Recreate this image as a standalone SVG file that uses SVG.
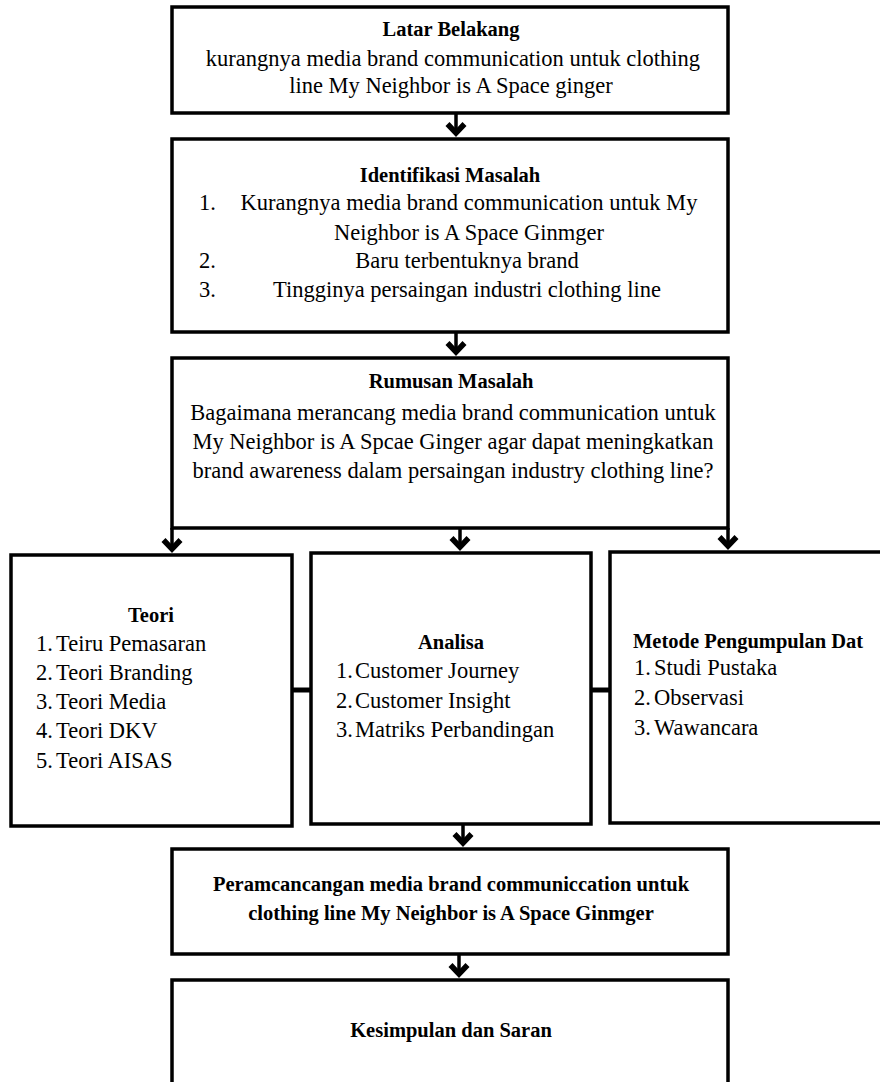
<svg xmlns="http://www.w3.org/2000/svg" width="880" height="1082" viewBox="0 0 880 1082">
<style>
.box{fill:#fff;stroke:#000;stroke-width:3.5}
.t{font-family:"Liberation Serif","Times New Roman",serif;font-size:22.5px;fill:#000}
.h{font-family:"Liberation Serif","Times New Roman",serif;font-size:20.5px;font-weight:bold;fill:#000}
.c{text-anchor:middle}
.con{stroke:#000;stroke-width:3.5;fill:none}
.link{stroke:#000;stroke-width:5;fill:none}
</style>
<defs>
<marker id="ah" markerUnits="userSpaceOnUse" markerWidth="30" markerHeight="30" viewBox="-15 -15 30 30" refX="0" refY="0" orient="auto" overflow="visible">
<path d="M-11,-8.5 L-2,0 L-11,8.5" fill="none" stroke="#000" stroke-width="5.5"/>
</marker>
</defs>
<rect width="880" height="1082" fill="#fff"/>
<g id="connectors">
<line class="con" x1="456" y1="113" x2="456" y2="135" marker-end="url(#ah)"/>
<line class="con" x1="456" y1="332" x2="456" y2="354" marker-end="url(#ah)"/>
<line class="con" x1="172" y1="528" x2="172" y2="551" marker-end="url(#ah)"/>
<line class="con" x1="460" y1="528" x2="460" y2="549" marker-end="url(#ah)"/>
<line class="con" x1="728" y1="528" x2="728" y2="548" marker-end="url(#ah)"/>
<line class="link" x1="292" y1="690" x2="311" y2="690"/>
<line class="link" x1="591" y1="690" x2="610" y2="690"/>
<line class="con" x1="463" y1="824" x2="463" y2="845" marker-end="url(#ah)"/>
<line class="con" x1="459" y1="954" x2="459" y2="976" marker-end="url(#ah)"/>
</g>
<g id="latar-belakang">
<rect class="box" x="172" y="7" width="556" height="106"/>
<text class="h c" x="451" y="36">Latar Belakang</text>
<text class="t c" x="453" y="66">kurangnya media brand communication untuk clothing</text>
<text class="t c" x="451" y="93">line My Neighbor is A Space ginger</text>
</g>
<g id="identifikasi-masalah">
<rect class="box" x="172" y="139" width="556" height="193"/>
<text class="h c" x="450" y="182">Identifikasi Masalah</text>
<text class="t" x="199" y="210">1.</text>
<text class="t c" x="469" y="210">Kurangnya media brand communication untuk My</text>
<text class="t c" x="469" y="240">Neighbor is A Space Ginmger</text>
<text class="t" x="199" y="268">2.</text>
<text class="t c" x="467" y="268">Baru terbentuknya brand</text>
<text class="t" x="199" y="297">3.</text>
<text class="t c" x="467" y="297">Tingginya persaingan industri clothing line</text>
</g>
<g id="rumusan-masalah">
<rect class="box" x="172" y="358" width="556" height="170"/>
<text class="h c" x="451" y="388">Rumusan Masalah</text>
<text class="t c" x="453" y="420">Bagaimana merancang media brand communication untuk</text>
<text class="t c" x="453" y="449">My Neighbor is A Spcae Ginger agar dapat meningkatkan</text>
<text class="t c" x="453" y="478">brand awareness dalam persaingan industry clothing line?</text>
</g>
<g id="teori">
<rect class="box" x="11" y="555" width="281" height="271"/>
<text class="h c" x="151" y="622">Teori</text>
<text class="t" y="651"><tspan x="36">1.</tspan><tspan x="56">Teiru Pemasaran</tspan></text>
<text class="t" y="680"><tspan x="36">2.</tspan><tspan x="56">Teori Branding</tspan></text>
<text class="t" y="709"><tspan x="36">3.</tspan><tspan x="56">Teori Media</tspan></text>
<text class="t" y="738"><tspan x="36">4.</tspan><tspan x="56">Teori DKV</tspan></text>
<text class="t" y="768"><tspan x="36">5.</tspan><tspan x="56">Teori AISAS</tspan></text>
</g>
<g id="analisa">
<rect class="box" x="311" y="553" width="280" height="271"/>
<text class="h c" x="451" y="649">Analisa</text>
<text class="t" y="678"><tspan x="336">1.</tspan><tspan x="355">Customer Journey</tspan></text>
<text class="t" y="708"><tspan x="336">2.</tspan><tspan x="355">Customer Insight</tspan></text>
<text class="t" y="737"><tspan x="336">3.</tspan><tspan x="355">Matriks Perbandingan</tspan></text>
</g>
<g id="metode">
<rect class="box" x="610" y="552" width="300" height="271"/>
<text class="h" x="633" y="648">Metode Pengumpulan Dat</text>
<text class="t" y="675"><tspan x="634">1.</tspan><tspan x="654">Studi Pustaka</tspan></text>
<text class="t" y="705"><tspan x="634">2.</tspan><tspan x="654">Observasi</tspan></text>
<text class="t" y="735"><tspan x="634">3.</tspan><tspan x="654">Wawancara</tspan></text>
</g>
<g id="perancangan">
<rect class="box" x="172" y="849" width="556" height="105"/>
<text class="h c" x="451" y="891">Peramcancangan media brand communiccation untuk</text>
<text class="h c" x="451" y="920">clothing line My Neighbor is A Space Ginmger</text>
</g>
<g id="kesimpulan">
<rect class="box" x="172" y="980" width="556" height="150"/>
<text class="h c" x="451" y="1037">Kesimpulan dan Saran</text>
</g>
</svg>
